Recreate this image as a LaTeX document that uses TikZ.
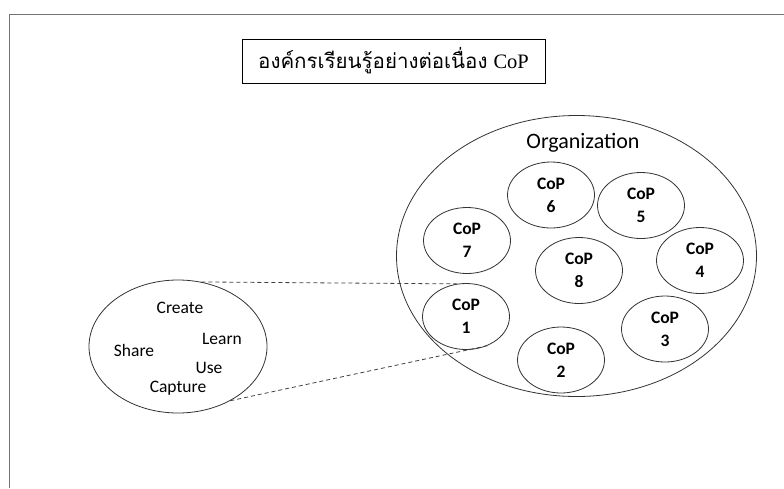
\documentclass[tikz,border=0pt]{standalone}
\usepackage{fontspec}
\setmainfont{Liberation Serif}
\newfontfamily\thaifont[Script=Thai]{Loma}
\newfontfamily\calibfont{Carlito}
\usetikzlibrary{shapes.geometric}

\tikzset{
  outline/.style={draw=black!80, line width=0.8pt},
  cop/.style={outline, ellipse, inner sep=0pt, minimum width=87pt, minimum height=66pt,
    align=center, font=\calibfont\bfseries\fontsize{17.5}{23}\selectfont},
  word/.style={font=\calibfont\fontsize{17.5}{20}\selectfont},
  zoomline/.style={draw=black!75, line width=0.8pt, dash pattern=on 4pt off 3pt}
}

\begin{document}
\begin{tikzpicture}[x=1pt,y=-1pt]
\useasboundingbox (0,0) rectangle (784,488);
% Page frame, cut off at right and bottom
\draw[black!55, line width=1pt] (9,488) -- (9,14) -- (784,14);
% Title box
\node[draw, line width=0.8pt, minimum width=303pt, minimum height=44pt, inner sep=0pt]
  (title) at (393.5,61) {{\thaifont\fontsize{20.5}{24}\selectfont องค์กรเรียนรู้อย่างต่อเนื่อง}\hspace{6pt}{\fontsize{20.5}{24}\selectfont CoP}};
% The organization holds the eight CoPs
\node[outline, ellipse, inner sep=0pt, minimum width=360pt, minimum height=281pt] (org) at (576.5,256) {};
\node[font=\calibfont\fontsize{22}{26}\selectfont] (orgname) at (583,143) {Organization};
\node[cop] (cop1) at (466,316.5) {CoP\\1};
\node[cop] (cop2) at (561,360) {CoP\\2};
\node[cop] (cop3) at (665,329) {CoP\\3};
\node[cop] (cop4) at (700,260.5) {CoP\\4};
\node[cop] (cop5) at (641,205.5) {CoP\\5};
\node[cop] (cop6) at (551,195) {CoP\\6};
\node[cop] (cop7) at (467,240.5) {CoP\\7};
\node[cop] (cop8) at (579,270.5) {CoP\\8};
% Inside one CoP: the knowledge cycle
\node[outline, ellipse, inner sep=0pt, minimum width=178pt, minimum height=133pt] (cycle) at (178,346.5) {};
\node[word] (create) at (180,308) {Create};
\node[word] (learn) at (222,339) {Learn};
\node[word] (share) at (134,350) {Share};
\node[word] (use) at (209,368) {Use};
\node[word] (capture) at (178,388) {Capture};
% Zoom lines from CoP 1 to its close-up
\draw[zoomline] (cycle.70) -- (cop1.106);
\draw[zoomline] (cycle.-46) -- (cop1.-54);
\end{tikzpicture}
\end{document}
